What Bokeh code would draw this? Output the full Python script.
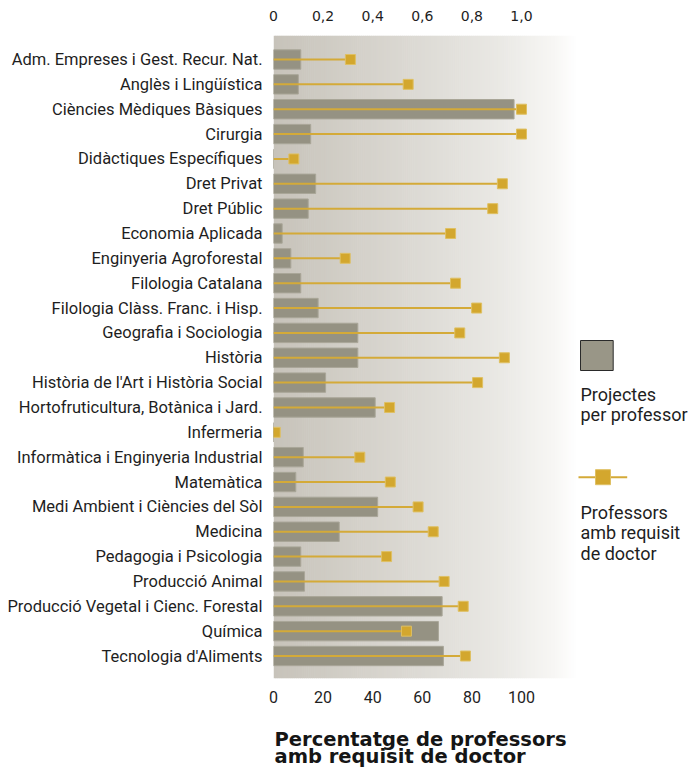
import numpy as np
from bokeh.plotting import figure
from bokeh.models import Range1d, LinearAxis, FixedTicker, Label
from bokeh.layouts import column
from bokeh.embed import file_html
from bokeh.resources import INLINE
from bokeh.core.properties import value

# ---------------- data ----------------
categories = [
    "Adm. Empreses i Gest. Recur. Nat.",
    "Anglès i Lingüística",
    "Ciències Mèdiques Bàsiques",
    "Cirurgia",
    "Didàctiques Específiques",
    "Dret Privat",
    "Dret Públic",
    "Economia Aplicada",
    "Enginyeria Agroforestal",
    "Filologia Catalana",
    "Filologia Clàss. Franc. i Hisp.",
    "Geografia i Sociologia",
    "Història",
    "Història de l'Art i Història Social",
    "Hortofruticultura, Botànica i Jard.",
    "Infermeria",
    "Informàtica i Enginyeria Industrial",
    "Matemàtica",
    "Medi Ambient i Ciències del Sòl",
    "Medicina",
    "Pedagogia i Psicologia",
    "Producció Animal",
    "Producció Vegetal i Cienc. Forestal",
    "Química",
    "Tecnologia d'Aliments",
]
projectes_per_professor = [
    0.11, 0.10, 0.97, 0.15, 0.0, 0.17, 0.14, 0.035, 0.07, 0.11, 0.18, 0.34,
    0.34, 0.21, 0.41, 0.0, 0.12, 0.09, 0.42, 0.265, 0.11, 0.125, 0.68, 0.665, 0.685,
]
pct_requisit_doctor = [
    31.0, 54.3, 100.0, 100.0, 8.2, 92.3, 88.4, 71.4, 28.9, 73.4, 81.9, 75.1,
    93.1, 82.3, 46.8, 0.7, 34.8, 47.1, 58.3, 64.4, 45.6, 68.8, 76.5, 53.6, 77.4,
]
bottom_ticks = [0, 20, 40, 60, 80, 100]
top_ticks = [0, 0.2, 0.4, 0.6, 0.8, 1.0]
top_tick_labels = ["0", "0,2", "0,4", "0,6", "0,8", "1,0"]
title_lines = ["Percentatge de professors", "amb requisit de doctor"]
legend_bar_text = ["Projectes", "per professor"]
legend_line_text = ["Professors", "amb requisit", "de doctor"]

# ---------------- styles / layout ----------------
BAR_FILL = "#959283"
BAR_LINE = "#a9a698"
GOLD = "#d3a72e"
GOLD_LINE = "#d4aa38"
TEXT = "#1e1e1e"
LABEL_FONT = "Roboto"

W = 690
H_MAIN, H_TITLE, T_BORDER = 712, 59, 8
B_LEFT, B_TOP = 273, 35
FRAME_BOTTOM = 678
B_BOTTOM = H_MAIN - FRAME_BOTTOM
PX_PER_UNIT = 2.48
X_FRAME = (W - B_LEFT) / PX_PER_UNIT   # data extent of the whole frame
X_GRAD = 122.6                          # shaded area extent
TITLE_SHIFT = -8                        # observed render offset correction

n = len(categories)
ypos = [n - i for i in range(n)]

p = figure(width=W, height=H_MAIN, output_backend="svg", toolbar_location=None,
           x_range=Range1d(0, X_FRAME), y_range=Range1d(0.095, n + 0.966),
           min_border_left=B_LEFT, min_border_right=0, min_border_top=B_TOP,
           min_border_bottom=B_BOTTOM)
# pixel-like helper ranges for the legend decoration
p.extra_x_ranges = {"proj": Range1d(0, X_FRAME / 100.0),
                    "px": Range1d(B_LEFT, W)}
p.extra_y_ranges = {"py": Range1d(FRAME_BOTTOM, B_TOP)}
p.outline_line_color = None
p.xgrid.visible = False
p.ygrid.visible = False
p.background_fill_color = "white"
p.border_fill_color = "white"

# gradient background (decoration)
stops_t = [0.0, 0.33, 0.55, 0.75, 0.92, 1.0]
stops_c = np.array([(199, 195, 186), (214, 211, 204), (224, 222, 217),
                    (234, 233, 229), (247, 246, 244), (255, 255, 255)], dtype=float)
edges = np.linspace(0, X_GRAD, 150)
mids = (edges[:-1] + edges[1:]) / 2 / X_GRAD
cols = []
for tt in mids:
    rgb = [np.interp(tt, stops_t, stops_c[:, k]) for k in range(3)]
    cols.append("#%02x%02x%02x" % tuple(int(round(v)) for v in rgb))
overlap = (edges[1] - edges[0]) * 0.3
p.quad(left=edges[:-1], right=np.minimum(edges[1:] + overlap, X_GRAD),
       bottom=p.y_range.start, top=p.y_range.end, fill_color=cols, line_color=None)

# bars: projectes per professor (top scale)
p.hbar(y=ypos, left=0, right=projectes_per_professor, height=0.78,
       x_range_name="proj", fill_color=BAR_FILL, line_color=BAR_LINE, line_width=1)

# lollipop: % professors amb requisit de doctor (bottom scale)
p.segment(x0=[0] * n, y0=ypos, x1=pct_requisit_doctor, y1=ypos,
          line_color=GOLD_LINE, line_width=2)
p.scatter(x=pct_requisit_doctor, y=ypos, marker="square", size=10,
          fill_color=GOLD, line_color="#dfc063", line_width=1)

# axes
p.xaxis.ticker = FixedTicker(ticks=bottom_ticks)
p.xaxis.axis_line_color = None
p.xaxis.major_tick_line_color = None
p.xaxis.minor_tick_line_color = None
p.xaxis.major_label_text_font = LABEL_FONT
p.xaxis.major_label_text_font_size = "16px"
p.xaxis.major_label_text_color = TEXT
p.xaxis.major_label_standoff = 6

p.yaxis.ticker = FixedTicker(ticks=ypos)
p.yaxis.major_label_overrides = {y: c for y, c in zip(ypos, categories)}
p.yaxis.axis_line_color = None
p.yaxis.major_tick_line_color = None
p.yaxis.minor_tick_line_color = None
p.yaxis.major_label_text_font = LABEL_FONT
p.yaxis.major_label_text_font_size = "16.5px"
p.yaxis.major_label_text_color = TEXT
p.yaxis.major_label_standoff = 5

top_axis = LinearAxis(x_range_name="proj", ticker=FixedTicker(ticks=top_ticks),
                      major_label_overrides={k: l for k, l in zip(top_ticks, top_tick_labels)})
top_axis.axis_line_color = None
top_axis.major_tick_line_color = None
top_axis.minor_tick_line_color = None
top_axis.major_label_text_font = "DejaVu Sans"
top_axis.major_label_text_font_size = "14px"
top_axis.major_label_text_color = TEXT
top_axis.major_label_standoff = 9
p.add_layout(top_axis, "above")

# ---------------- legend (pixel-like coordinates) ----------------
leg = dict(x_range_name="px", y_range_name="py")
p.quad(left=580, right=612.7, top=340, bottom=370, fill_color="#999687",
       line_color="#2a2a2a", line_width=1, **leg)
p.segment(x0=578, y0=476.7, x1=626.7, y1=476.7, line_color=GOLD_LINE,
          line_width=2, **leg)
p.scatter(x=602.5, y=476.7, marker="square", size=15, fill_color=GOLD,
          line_color="#dfc063", line_width=1, **leg)
for txt, base in zip(legend_bar_text + legend_line_text,
                     [393.5, 413.5, 511.7, 532.0, 552.5]):
    p.add_layout(Label(x=580, y=base, text=txt, text_font=LABEL_FONT,
                       text_font_size="18px", text_color=TEXT,
                       text_baseline="alphabetic", text_align="left", **leg))

# ---------------- title strip below the chart ----------------
T_FRAME_TOP = H_MAIN + T_BORDER
T_FRAME_BOTTOM = H_MAIN + H_TITLE
t = figure(width=W, height=H_TITLE, output_backend="svg", toolbar_location=None,
           title=None,
           x_range=Range1d(B_LEFT, W), y_range=Range1d(T_FRAME_BOTTOM, T_FRAME_TOP),
           x_axis_location=None, y_axis_location=None,
           min_border_left=B_LEFT, min_border_right=0, min_border_top=T_BORDER,
           min_border_bottom=0)
t.outline_line_color = None
t.xgrid.visible = False
t.ygrid.visible = False
t.background_fill_color = "white"
t.border_fill_color = "white"
t.text(x=[274] * len(title_lines),
       y=[746.5 + TITLE_SHIFT, 763.5 + TITLE_SHIFT], text=title_lines,
       text_font=value("DejaVu Sans"), text_font_size="19.5px",
       text_font_style="bold", text_color="#151515",
       text_baseline="alphabetic", text_align="left")

open("out.html", "w").write(file_html(column(p, t), INLINE))
